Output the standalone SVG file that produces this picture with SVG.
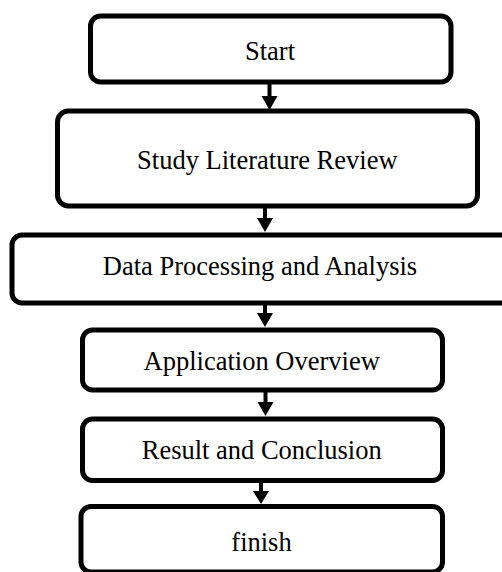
<svg xmlns="http://www.w3.org/2000/svg" width="502" height="572" viewBox="0 0 502 572">
<style>
.box{fill:#fff;stroke:#000;stroke-width:5}
.lbl{font-family:"Liberation Serif","Times New Roman",serif;font-size:26.5px;fill:#000;text-anchor:middle}
.shaft{stroke:#000;stroke-width:4;fill:none}
.head{fill:#000}
</style>
<rect width="502" height="572" fill="#fff"/>
<g id="connectors">
<line class="shaft" x1="269.5" y1="82" x2="269.5" y2="98"/>
<polygon class="head" points="261.5,96 277.5,96 269.5,110"/>
<line class="shaft" x1="265" y1="206" x2="265" y2="220"/>
<polygon class="head" points="257,218 273,218 265,232"/>
<line class="shaft" x1="265" y1="303" x2="265" y2="315"/>
<polygon class="head" points="257,313 273,313 265,327"/>
<line class="shaft" x1="265.5" y1="390" x2="265.5" y2="404"/>
<polygon class="head" points="257.5,402 273.5,402 265.5,416"/>
<line class="shaft" x1="261" y1="480" x2="261" y2="493"/>
<polygon class="head" points="253,491 269,491 261,504"/>
</g>
<g id="start">
<rect class="box" x="90.5" y="16" width="360.5" height="66" rx="10"/>
<text class="lbl" x="270" y="60">Start</text>
</g>
<g id="literature">
<rect class="box" x="57.5" y="111" width="420" height="95" rx="11"/>
<text class="lbl" x="267.3" y="169">Study Literature Review</text>
</g>
<g id="processing">
<rect class="box" x="12" y="235" width="506" height="68" rx="10"/>
<text class="lbl" x="260" y="275">Data Processing and Analysis</text>
</g>
<g id="application">
<rect class="box" x="82.5" y="330" width="360" height="60" rx="10"/>
<text class="lbl" x="261.7" y="370">Application Overview</text>
</g>
<g id="result">
<rect class="box" x="82.5" y="419" width="360" height="61.5" rx="10"/>
<text class="lbl" x="261.7" y="459">Result and Conclusion</text>
</g>
<g id="finish">
<rect class="box" x="81" y="506.5" width="361.5" height="65.5" rx="10"/>
<text class="lbl" x="261.5" y="550.7">finish</text>
</g>
</svg>
